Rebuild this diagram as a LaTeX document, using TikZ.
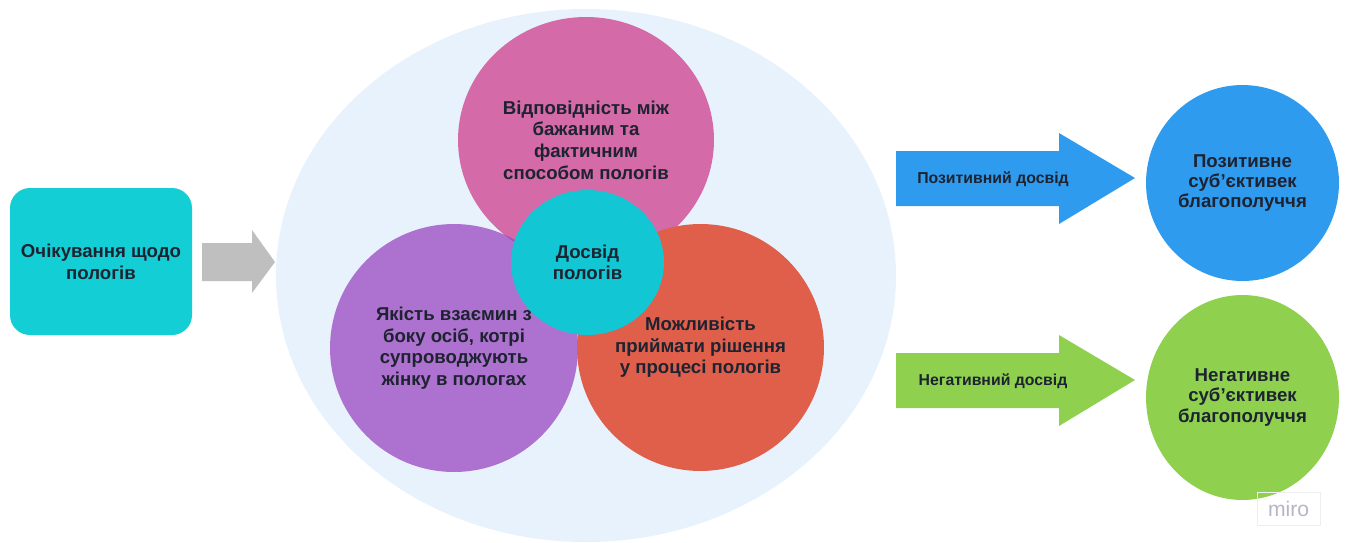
\documentclass[tikz,border=0pt]{standalone}
\usepackage{fontspec}
\setmainfont{Liberation Sans}
\usetikzlibrary{shapes.geometric}

\definecolor{ink}{HTML}{1D2330}
\definecolor{cloud}{HTML}{E8F2FC}
\definecolor{boxteal}{HTML}{14CED6}
\definecolor{ringteal}{HTML}{13C6D4}
\definecolor{arrowgrey}{HTML}{BFBFBF}
\definecolor{pinkc}{HTML}{D46AA7}
\definecolor{purplec}{HTML}{AD72CF}
\definecolor{lensc}{HTML}{A94DB9}
\definecolor{redc}{HTML}{E05F4B}
\definecolor{bluec}{HTML}{2F9BEF}
\definecolor{greenc}{HTML}{8FD14F}
\definecolor{mirogrey}{HTML}{B4B6C4}
\definecolor{miroedge}{HTML}{EEEEF2}

\tikzset{
  lbl/.style={font=\bfseries\fontsize{10.6}{12.3}\selectfont, text=ink, align=center},
  smalllbl/.style={font=\bfseries\fontsize{9}{10}\selectfont, text=ink},
  blob/.style={ellipse, inner sep=0pt, outer sep=0pt},
}

\begin{document}
\begin{tikzpicture}[x=0.02cm, y=-0.02cm]

      \useasboundingbox (0,0) rectangle (1347,542);

      \fill[cloud] (586,275.5) ellipse [x radius=310, y radius=266.5];

      \fill[boxteal, rounded corners=0.4cm] (10,188) rectangle (192,335);
      \node[lbl] (expect) at (101,262) {Очікування щодо\\пологів};

      \fill[arrowgrey] (202,243) -- (252,243) -- (252,230) -- (275,262)
            -- (252,293) -- (252,281) -- (202,281) -- cycle;

      \node[blob, lbl, fill=pinkc, minimum width=5.12cm, minimum height=4.92cm] (match) at (586,140)
            {Відповідність між\\бажаним та\\фактичним\\способом пологів};
      \node[blob, lbl, fill=purplec, minimum width=4.96cm, minimum height=4.96cm] (care) at (454,348)
            {Якість взаємин з\\боку осіб, котрі\\супроводжують\\жінку в пологах};

      \begin{scope}
        \clip (454,348) circle [radius=124];
        \fill[lensc] (586,140) ellipse [x radius=128, y radius=123];
      \end{scope}

      \node[blob, lbl, fill=redc, minimum width=4.94cm, minimum height=4.94cm] (choice) at (700.5,347.5)
            {Можливість\\приймати рішення\\у процесі пологів};
      \node[blob, lbl, fill=ringteal, minimum width=3.06cm, minimum height=2.9cm] (birth) at (587.5,262.5)
            {Досвід\\пологів};

      \fill[bluec] (896,151) -- (1059,151) -- (1059,133) -- (1135,178)
            -- (1059,224) -- (1059,206) -- (896,206) -- cycle;
      \node[smalllbl] (posexp) at (993,179) {Позитивний досвід};

      \fill[greenc] (896,353) -- (1059,353) -- (1059,335) -- (1135,380)
            -- (1059,426) -- (1059,408) -- (896,408) -- cycle;
      \node[smalllbl] (negexp) at (993,381) {Негативний досвід};

      \node[blob, lbl, fill=bluec, minimum width=3.86cm, minimum height=3.92cm,
            font=\bfseries\fontsize{10.6}{11.4}\selectfont] (poswell) at (1242.5,183)
            {Позитивне\\суб’єктивек\\благополуччя};
      \node[blob, lbl, fill=greenc, minimum width=3.86cm, minimum height=4.1cm,
            font=\bfseries\fontsize{10.6}{11.4}\selectfont] (negwell) at (1242.5,397.5)
            {Негативне\\суб’єктивек\\благополуччя};

      \node[draw=miroedge, text=mirogrey, font=\fontsize{12}{12}\selectfont,
            minimum width=1.26cm, minimum height=0.66cm, inner sep=0pt] (miro) at (1288.5,508.5) {miro};

\end{tikzpicture}
\end{document}
